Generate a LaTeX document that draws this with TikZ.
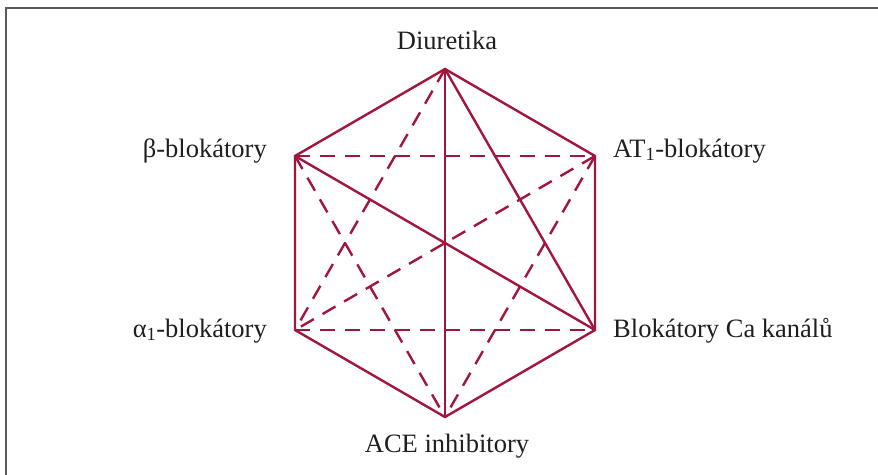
\documentclass[tikz,border=0pt]{standalone}
\usepackage{fontspec}
\setmainfont{Liberation Serif}
\definecolor{wine}{RGB}{162,22,62}
\definecolor{framegray}{RGB}{90,90,90}
\begin{document}
\begin{tikzpicture}[x=1pt,y=-1pt,
  edge/.style={draw=wine,line width=2.4pt,line join=miter},
  dedge/.style={draw=wine,line width=2.4pt,dash pattern=on 15pt off 10pt},
  lbl/.style={font=\fontsize{26.5}{30}\selectfont,text=black!88,inner sep=0pt,anchor=base}]
\useasboundingbox (0,0) rectangle (878,474);
\fill[white] (0,0) rectangle (878,474);
\draw[framegray,line width=2pt] (5.5,480) -- (5.5,7.5) -- (885,7.5);
% vertices
\coordinate (D) at (445,69);
\coordinate (AT) at (595,156);
\coordinate (CA) at (595,330);
\coordinate (ACE) at (445,417);
\coordinate (AL) at (295,330);
\coordinate (BE) at (295,156);
% labels
\node[lbl] (tD) at (447,49) {Diuretika};
\node[lbl,anchor=base east] (tBE) at (267,157) {β-blokátory};
\node[lbl,anchor=base west] (tAT) at (613,157) {AT\textsubscript{1}-blokátory};
\node[lbl,anchor=base east] (tAL) at (267,337) {α\textsubscript{1}-blokátory};
\node[lbl,anchor=base west] (tCA) at (613,337) {Blokátory Ca kanálů};
\node[lbl] (tACE) at (447,452) {ACE inhibitory};
% dashed
\draw[dedge] (BE) -- (AT);
\draw[dedge] (AL) -- (CA);
\draw[dedge] (D) -- (AL);
\draw[dedge] (BE) -- (ACE);
\draw[dedge] (AT) -- (AL);
\draw[dedge] (AT) -- (ACE);
% solid
\draw[edge] (D) -- (AT) -- (CA) -- (ACE) -- (AL) -- (BE) -- cycle;
\draw[edge] (D) -- (ACE);
\draw[edge] (D) -- (CA);
\draw[edge] (BE) -- (CA);
\end{tikzpicture}
\end{document}
